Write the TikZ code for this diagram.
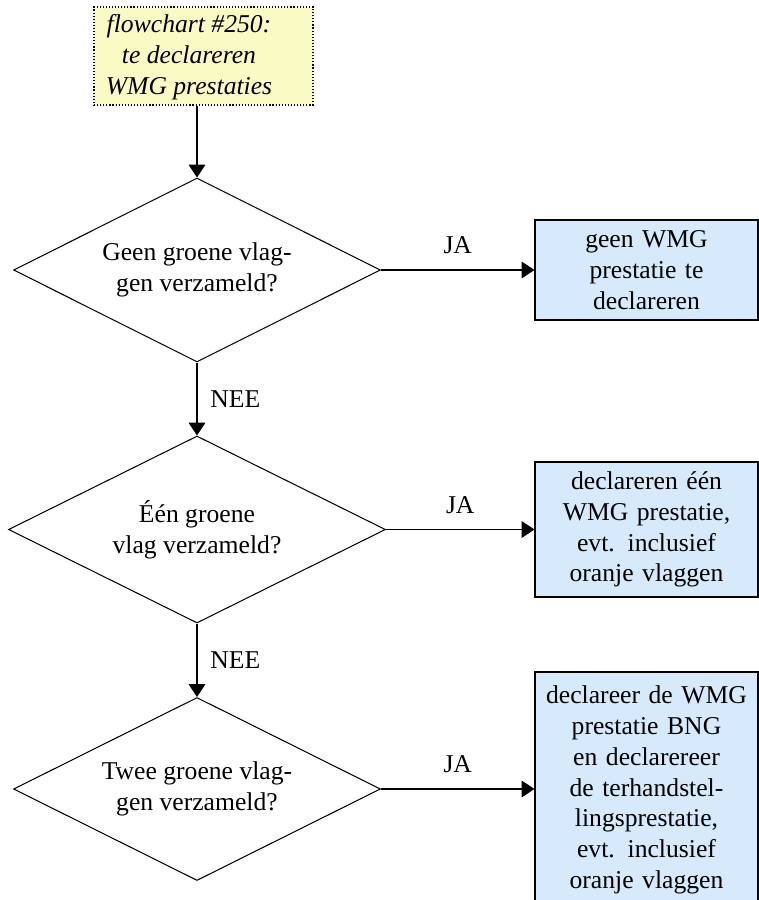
\documentclass[tikz,border=0pt]{standalone}
\usepackage{fontspec}
\setmainfont{Liberation Serif}
\usetikzlibrary{shapes.geometric,arrows.meta}
\def\px{0.39pt}
\definecolor{boxblue}{RGB}{214,234,252}
\definecolor{noteyellow}{RGB}{250,250,196}
\begin{document}
\begin{tikzpicture}[x=\px, y=-\px, font=\fontsize{10}{12}\selectfont,
  decision/.style={diamond, draw, line width=0.4pt, shape aspect=2, inner sep=0pt, align=center},
  outbox/.style={rectangle, draw, line width=0.4pt, fill=boxblue, align=center, text width=215*\px, inner xsep=4*\px, inner ysep=0pt, minimum width=223*\px},
  startbox/.style={rectangle, draw, line width=0.4pt, dash pattern=on 0.45pt off 0.75pt, fill=noteyellow, minimum width=219*\px, minimum height=98*\px},
  arr/.style={-{Triangle[length=5pt,width=6.5pt]}, line width=0.4pt}]
\useasboundingbox (0,0) rectangle (759,900);
\clip (0,0) rectangle (759,900);

\node[startbox] (start) at (203.5,56) {};
\node[font=\fontsize{10}{12}\selectfont\itshape, align=center] (starttext) at (189,57) {flowchart \#250:\\te declareren\\WMG prestaties};

\node[decision, minimum width=367*\px, minimum height=184*\px] (d1) at (197,270) {Geen groene vlag-\\gen verzameld?};
\node[decision, minimum width=377*\px, minimum height=187*\px] (d2) at (197,529.5) {Één groene\\vlag verzameld?};
\node[decision, minimum width=367*\px, minimum height=183*\px] (d3) at (197,789) {Twee groene vlag-\\gen verzameld?};

\node[outbox, minimum height=100*\px] (b1) at (646.5,270) {geen WMG\\prestatie te\\declareren};
\node[outbox, minimum height=135*\px] (b2) at (646.5,529.5) {declareren één\\WMG prestatie,\\evt. inclusief\\oranje vlaggen};
\node[outbox, minimum height=236*\px] (b3) at (646.5,790) {declareer de WMG\\prestatie BNG\\en declarereer\\de terhandstel-\\lingsprestatie,\\evt. inclusief\\oranje vlaggen};

\draw[arr] (start.south -| d1.north) -- (d1.north);
\draw[arr] (d1.south) -- node[right=1.7pt] (nee1) {NEE} (d2.north);
\draw[arr] (d2.south) -- node[right=1.7pt] (nee2) {NEE} (d3.north);
\draw[arr] (d1.east) -- node[above=2.8pt] (ja1) {JA} (d1.east -| b1.west);
\draw[arr] (d2.east) -- node[above=2.8pt] (ja2) {JA} (d2.east -| b2.west);
\draw[arr] (d3.east) -- node[above=2.8pt] (ja3) {JA} (d3.east -| b3.west);
\end{tikzpicture}
\end{document}
